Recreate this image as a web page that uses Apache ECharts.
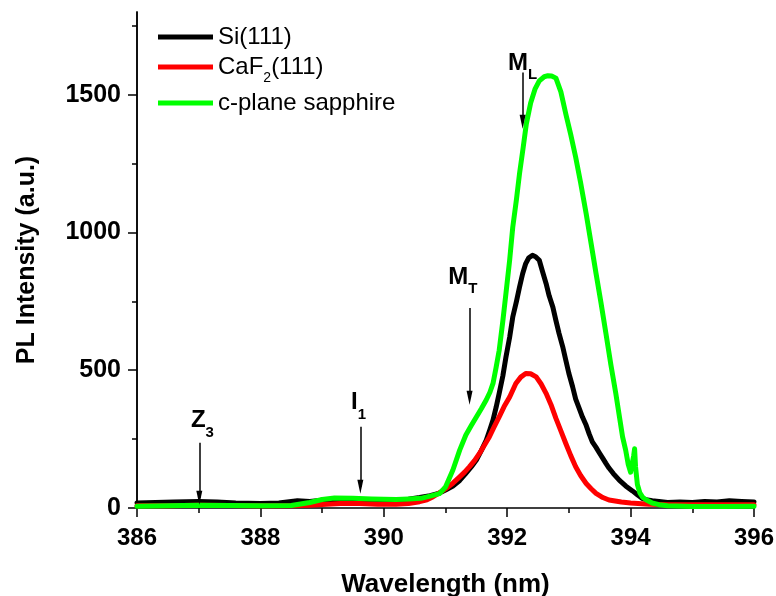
<!DOCTYPE html>
<html>
<head>
<meta charset="utf-8">
<script src="https://cdn.jsdelivr.net/npm/echarts@6/dist/echarts.min.js"></script>
<style>
  html, body { margin: 0; padding: 0; background: #fff; }
  #chart { width: 776px; height: 596px; }
</style>
</head>
<body>
<div id="chart"></div>
<script>
// PL spectra: [wavelength (nm), intensity (a.u.)]
const siSpectrum = [
  [386.0,18],[386.3,20],[386.6,22],[387.0,24],[387.3,22],[387.6,18],[388.0,16],[388.3,18],[388.6,26],[388.8,24],
  [389.0,28],[389.3,30],[389.6,28],[389.9,26],[390.2,28],[390.4,32],[390.58,38],[390.75,45],[390.9,54],[391.0,65],
  [391.12,80],[391.23,100],[391.33,126],[391.42,150],[391.5,174],[391.58,208],[391.66,246],[391.72,285],[391.77,319],[391.82,365],
  [391.87,416],[391.93,480],[391.98,548],[392.04,620],[392.09,693],[392.15,750],[392.2,802],[392.25,850],[392.3,887],[392.35,908],
  [392.41,917],[392.46,912],[392.52,899],[392.57,860],[392.63,815],[392.68,770],[392.74,729],[392.79,680],[392.84,634],[392.9,585],
  [392.95,536],[393.0,488],[393.06,440],[393.11,395],[393.17,360],[393.22,330],[393.28,300],[393.33,268],[393.38,240],[393.44,220],
  [393.5,198],[393.55,180],[393.6,162],[393.65,145],[393.72,125],[393.82,100],[393.92,80],[394.03,62],[394.12,46],[394.19,35],
  [394.25,30],[394.35,26],[394.46,24],[394.6,20],[394.8,22],[395.0,20],[395.2,24],[395.4,22],[395.6,26],[395.8,24],[396.0,22]
];
const caf2Spectrum = [
  [386.0,8],[386.5,8],[387.0,10],[387.5,9],[388.0,8],[388.5,8],[388.8,10],[389.0,13],[389.3,16],[389.6,16],
  [389.9,14],[390.2,14],[390.4,16],[390.58,23],[390.7,30],[390.8,41],[390.9,55],[391.01,71],[391.12,90],[391.23,113],
  [391.31,130],[391.39,150],[391.47,172],[391.55,198],[391.63,228],[391.71,258],[391.79,295],[391.87,331],[391.95,368],[392.04,403],
  [392.14,452],[392.22,475],[392.3,488],[392.38,487],[392.47,476],[392.55,450],[392.63,416],[392.71,375],[392.79,325],[392.87,280],
  [392.95,234],[393.03,190],[393.11,150],[393.19,118],[393.28,89],[393.36,70],[393.44,53],[393.55,38],[393.65,29],[393.85,22],
  [394.0,18],[394.3,14],[394.6,12],[395.0,12],[395.5,12],[396.0,12]
];
const sapphireSpectrum = [
  [386.0,6],[386.5,8],[387.0,10],[387.5,9],[388.0,8],[388.5,9],[388.8,20],[389.0,31],[389.2,36],[389.5,35],
  [389.8,33],[390.0,32],[390.2,31],[390.4,33],[390.6,35],[390.75,43],[390.9,52],[391.0,76],[391.12,138],[391.23,210],
  [391.33,265],[391.42,300],[391.5,330],[391.58,360],[391.66,392],[391.72,420],[391.77,452],[391.82,510],[391.87,572],[391.93,680],
  [391.98,779],[392.04,900],[392.09,1019],[392.15,1120],[392.2,1214],[392.26,1310],[392.31,1394],[392.38,1470],[392.45,1520],[392.52,1550],
  [392.6,1565],[392.66,1569],[392.72,1568],[392.79,1560],[392.87,1510],[392.95,1430],[393.03,1355],[393.11,1273],[393.19,1180],[393.28,1068],
  [393.36,960],[393.44,851],[393.52,745],[393.6,634],[393.68,520],[393.76,416],[393.82,330],[393.87,258],[393.92,210],[393.96,160],
  [394.0,130],[394.03,125],[394.05,190],[394.065,215],[394.08,150],[394.11,85],[394.15,55],[394.2,38],[394.25,30],[394.35,18],
  [394.46,12],[394.6,8],[395.0,5],[395.5,5],[396.0,6]
];

const seriesNames = ['Si(111)', 'CaF2(111)', 'c-plane sapphire'];
const seriesColors = ['#000000', '#ff0000', '#00ff00'];

// axis ticks
const xMajorTicks = [386, 388, 390, 392, 394, 396];
const yMajorTicks = [0, 500, 1000, 1500];
const yMinorTicks = [250, 750, 1250, 1750];

// peak annotations: letter, subscript, label anchor, arrow (from -> to)
const annoMain = ['Z', 'I', 'M', 'M'];
const annoSub = ['3', '1', 'T', 'L'];
const annoLabelAt = [[387.06, 318], [389.59, 382], [391.28, 838], [392.25, 1614]];
const annoArrowX = [387.01, 389.62, 391.39, 392.25];
const annoArrowFrom = [237, 295, 726, 1580];
const annoArrowTo = [37, 77, 400, 1402];

const FONT = "Arial, 'Liberation Sans', Helvetica, sans-serif";
const chart = echarts.init(document.getElementById('chart'), null, { renderer: 'canvas' });

function legendAt(name, top) {
  return {
    data: [name],
    left: 153, top: top,
    orient: 'horizontal',
    icon: 'rect', itemWidth: 55, itemHeight: 5, itemGap: 0,
    selectedMode: false,
    textStyle: {
      fontFamily: FONT, fontSize: 24, color: '#000', lineHeight: 24,
      rich: {
        m: { fontFamily: FONT, fontSize: 24, lineHeight: 24, color: '#000', verticalAlign: 'middle' },
        s: { fontFamily: FONT, fontSize: 14, lineHeight: 14, color: '#000', verticalAlign: 'middle', padding: [22, 0, 0, 0] }
      }
    },
    formatter: function (n) {
      if (n === 'CaF2(111)') return '{m|CaF}{s|2}{m|(111)}';
      return n;
    }
  };
}

const markPoints = annoMain.map((m, i) => ({
  coord: annoLabelAt[i],
  symbol: 'circle', symbolSize: 0,
  label: {
    show: true, position: 'inside',
    formatter: '{m|' + m + '}{s|' + annoSub[i] + '}'
  }
}));
const markLines = annoArrowX.map((x, i) => [
  { coord: [x, annoArrowFrom[i]] },
  { coord: [x, annoArrowTo[i]] }
]);

const axisLine = { show: true, onZero: false, lineStyle: { color: '#000', width: 1.5 } };

const option = {
  animation: false,
  backgroundColor: '#fff',
  grid: { left: 137, right: 22, top: 12, bottom: 88, containLabel: false, outerBoundsMode: 'none' },
  legend: [legendAt(seriesNames[0], 20), legendAt(seriesNames[1], 44), legendAt(seriesNames[2], 86)],
  xAxis: [{
    type: 'value', min: 386, max: 396, interval: 2,
    name: 'Wavelength (nm)', nameLocation: 'middle', nameGap: 64,
    nameTextStyle: { fontFamily: FONT, fontSize: 26, fontWeight: 'bold', color: '#000' },
    axisLine: axisLine,
    axisTick: { show: true, inside: false, length: 9, lineStyle: { color: '#000', width: 1.5 } },
    minorTick: { show: true, splitNumber: 2, length: 5, lineStyle: { color: '#000', width: 1.5 } },
    axisLabel: { fontFamily: FONT, fontSize: 24, fontWeight: 'bold', color: '#000', margin: 18,
      customValues: xMajorTicks, formatter: v => String(v) },
    splitLine: { show: false }, minorSplitLine: { show: false }
  }],
  yAxis: [{
    type: 'value', min: 0, max: 1800, interval: 500,
    name: 'PL Intensity (a.u.)', nameLocation: 'middle', nameGap: 97,
    nameTextStyle: { fontFamily: FONT, fontSize: 25, fontWeight: 'bold', color: '#000' },
    axisLine: axisLine,
    axisTick: { show: true, inside: false, length: 9, lineStyle: { color: '#000', width: 1.5 },
      customValues: yMajorTicks },
    axisLabel: { fontFamily: FONT, fontSize: 25, fontWeight: 'bold', color: '#000', margin: 16,
      customValues: yMajorTicks, formatter: v => String(v) },
    splitLine: { show: false }
  }, {
    type: 'value', min: 0, max: 1800, position: 'left', offset: 0,
    axisLine: { show: true, onZero: false, lineStyle: { color: '#000', width: 1.5 } },
    axisTick: { show: true, inside: false, length: 5, lineStyle: { color: '#000', width: 1.5 },
      customValues: yMinorTicks },
    axisLabel: { show: false },
    splitLine: { show: false }
  }],
  series: [
    { name: seriesNames[0], data: siSpectrum },
    { name: seriesNames[1], data: caf2Spectrum },
    { name: seriesNames[2], data: sapphireSpectrum }
  ].map((s, i) => ({
    type: 'line', name: s.name, data: s.data,
    xAxisIndex: 0, yAxisIndex: 0,
    showSymbol: false, symbol: 'none', smooth: false,
    color: seriesColors[i],
    lineStyle: { color: seriesColors[i], width: 5, cap: 'round', join: 'round' },
    z: 2 + i
  })).concat([{
    type: 'line', name: 'annotations', data: [], xAxisIndex: 0, yAxisIndex: 0,
    silent: true, z: 10,
    markPoint: {
      silent: true,
      label: {
        rich: {
          m: { fontFamily: FONT, fontSize: 24, lineHeight: 24, fontWeight: 'bold', color: '#000', verticalAlign: 'middle' },
          s: { fontFamily: FONT, fontSize: 15, lineHeight: 15, fontWeight: 'bold', color: '#000', verticalAlign: 'middle', padding: [24, 0, 0, 0] }
        }
      },
      data: markPoints
    },
    markLine: {
      silent: true,
      symbol: ['none', 'triangle'], symbolSize: [6, 14],
      label: { show: false },
      lineStyle: { color: '#000', width: 1.5, type: 'solid' },
      data: markLines
    }
  }])
};

chart.setOption(option);
</script>
</body>
</html>
